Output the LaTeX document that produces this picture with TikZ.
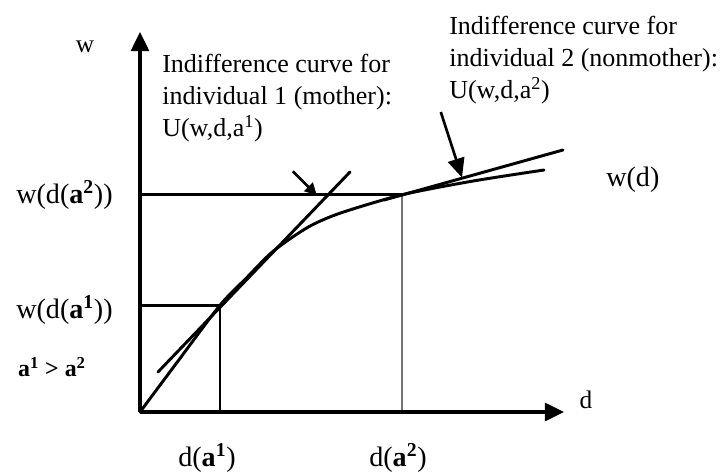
\documentclass[tikz,border=0pt]{standalone}
\usepackage{fontspec}
\setmainfont{Liberation Serif}
\usetikzlibrary{arrows.meta}

\begin{document}
\begin{tikzpicture}[
  axis/.style={-{Triangle[length=0.48cm,width=0.45cm]}, line width=2.3pt},
  guide/.style={line width=2pt},
  faint/.style={line width=1.5pt, black!55},
  curve/.style={line width=2.1pt, line cap=round},
  pointer/.style={-{Triangle[length=0.3cm,width=0.3cm]}, line width=1.9pt},
  note/.style={align=left, inner sep=0pt, font=\fontsize{18.5}{22.8}\selectfont},
  lbl/.style={inner sep=0pt, font=\fontsize{20}{24}\selectfont}
]
\useasboundingbox (-3.5,-1.475) rectangle (14.55,10.3);

% points
\coordinate (O) at (0,0);
\coordinate (ytip) at (0,9.5);
\coordinate (xtip) at (10.6,0);
\coordinate (A1) at (2,2.67);
\coordinate (A2) at (6.55,5.43);
\coordinate (A1y) at (0,2.67);
\coordinate (A2y) at (0,5.43);
\coordinate (A1x) at (2,0);
\coordinate (A2x) at (6.55,0.05);

% axes
\draw[axis] (O) -- (ytip);
\draw[axis] (O) -- (xtip);

% guide lines
\draw[guide] (A2y) -- (A2);
\draw[guide] (A1y) -- (A1) -- (A1x);
\draw[faint] (A2) -- (A2x);

% w(d)
\draw[curve] plot[smooth, tension=0.45] coordinates
  {(0,0) (1,1.34) (2,2.67) (2.66,3.35) (3.33,4.02) (4.2,4.62) (5,4.97) (6.55,5.43) (8.3,5.77) (10.1,6.05)};

% indifference curves
\coordinate (ic1s) at (0.45,1.0);
\coordinate (ic1e) at (5.25,6.0);
\coordinate (ic2s) at (6.1,5.3);
\coordinate (ic2e) at (10.575,6.55);
\draw[curve] (ic1s) -- (ic1e);
\draw[curve] (ic2s) -- (ic2e);

% pointers
\coordinate (p1) at (3.82,6.02);
\coordinate (p1tip) at (4.42,5.42);
\coordinate (p2) at (7.52,7.5);
\coordinate (p2tip) at (8.05,5.86);
\draw[pointer] (p1) -- (p1tip);
\draw[pointer, -{Triangle[length=0.48cm,width=0.42cm]}] (p2) -- (p2tip);

% labels
\node[lbl, font=\fontsize{18}{22}\selectfont] (wlab) at (-1.375,9.125) {w};
\node[lbl, font=\fontsize{18}{22}\selectfont] (dlab) at (11.15,0.3) {d};
\node[note, anchor=west] (ic1) at (0.55,7.85)
  {Indifference curve for\\individual 1 (mother):\\U(w,d,a\textsuperscript{1})};
\node[note, anchor=west] (ic2) at (7.725,8.8)
  {Indifference curve for\\individual 2 (nonmother):\\U(w,d,a\textsuperscript{2})};
\node[lbl, anchor=west] (wd) at (11.65,5.8) {w(d)};
\node[lbl, anchor=east] (wda2) at (-0.675,5.43) {w(d(\textbf{a\textsuperscript{2}}))};
\node[lbl, anchor=east] (wda1) at (-0.675,2.55) {w(d(\textbf{a\textsuperscript{1}}))};
\node[lbl, font=\fontsize{17}{20}\selectfont\bfseries] (order) at (-2.2,1.125)
  {a\textsuperscript{1} > a\textsuperscript{2}};
\node[lbl] (da1) at (1.675,-1.15) {d(\textbf{a\textsuperscript{1}})};
\node[lbl] (da2) at (6.45,-1.15) {d(\textbf{a\textsuperscript{2}})};
\end{tikzpicture}
\end{document}
